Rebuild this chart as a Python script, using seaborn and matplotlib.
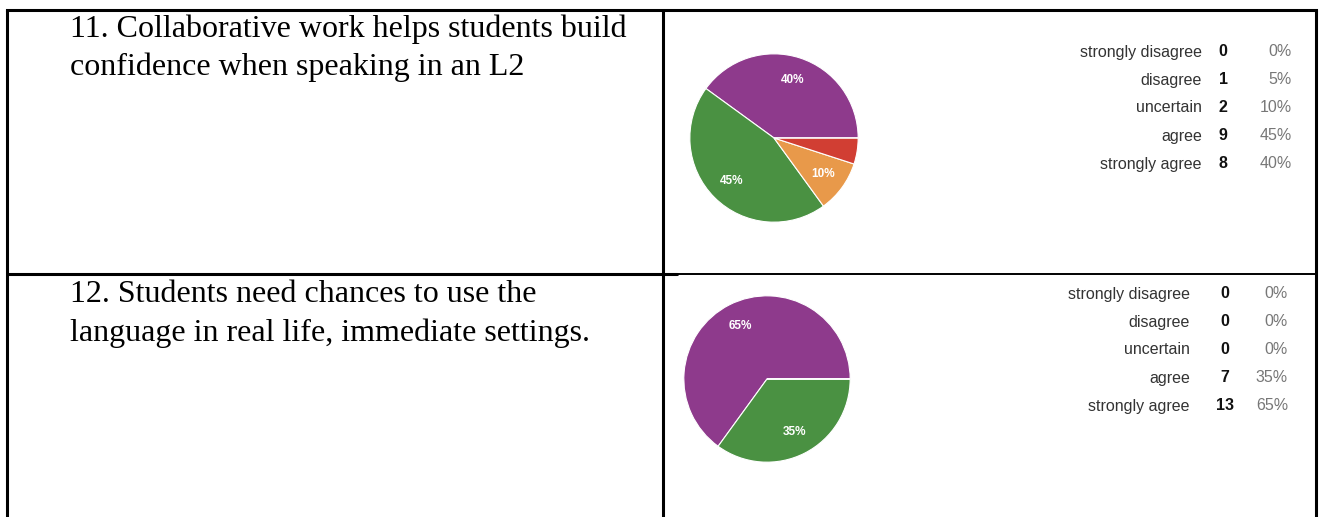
import matplotlib
matplotlib.use("Agg")
import matplotlib.pyplot as plt
import seaborn as sns

# ---- data ----
categories = ["strongly disagree", "disagree", "uncertain", "agree", "strongly agree"]
q11_title = ["11. Collaborative work helps students build", "confidence when speaking in an L2"]
q11_counts = [0, 1, 2, 9, 8]
q12_title = ["12. Students need chances to use the", "language in real life, immediate settings."]
q12_counts = [0, 0, 0, 7, 13]
slice_colors = {"strongly disagree": "#3366CC", "disagree": "#D13E33", "uncertain": "#E8994A",
                "agree": "#4A9142", "strongly agree": "#8E3A8C"}

sns.set_theme(style="white")
plt.rcParams["font.family"] = ["Liberation Sans", "DejaVu Sans"]

W, H = 1324, 517
fig = plt.figure(figsize=(W / 100, H / 100), dpi=100)
bg = fig.add_axes([0, 0, 1, 1])
bg.set_xlim(0, W)
bg.set_ylim(H, 0)
bg.axis("off")

# table borders
lw = 2.2
bg.plot([7, 1316], [10, 10], color="black", lw=lw, solid_capstyle="projecting")
bg.plot([7, 7], [10, H], color="black", lw=lw)
bg.plot([663, 663], [10, H], color="black", lw=lw)
bg.plot([1316, 1316], [10, H], color="black", lw=lw)
bg.plot([7, 677], [274, 274], color="black", lw=lw)
bg.plot([677, 1316], [274, 274], color="black", lw=1.4)

serif = ["Liberation Serif", "DejaVu Serif"]
for lines, y0 in [(q11_title, 29), (q12_title, 295)]:
    for i, ln in enumerate(lines):
        bg.text(70, y0 + i * 38, ln, family=serif, fontsize=23, color="black",
                va="center", ha="left")


def draw_pie(counts, cx, cy, r, legend_x, num_x, pct_x, legend_y0):
    ax = fig.add_axes([(cx - r) / W, 1 - (cy + r) / H, 2 * r / W, 2 * r / H])
    total = sum(counts)
    order = list(range(len(categories)))[::-1]  # strongly agree first
    vals = [counts[i] for i in order]
    cols = [slice_colors[categories[i]] for i in order]
    wedges, texts, autotexts = ax.pie(
        vals, colors=cols, startangle=0, counterclock=True, radius=1,
        autopct=lambda p: f"{p:.0f}%" if p >= 9.5 else "", pctdistance=0.72,
        wedgeprops=dict(edgecolor="white", linewidth=0.8),
        textprops=dict(color="white", fontsize=8.5, fontweight="bold"))
    ax.set_xlim(-1.01, 1.01)
    ax.set_ylim(-1.01, 1.01)
    ax.set_aspect("equal")
    ax.axis("off")
    for k, (cat, c) in enumerate(zip(categories, counts)):
        y = legend_y0 + k * 28
        bg.text(legend_x, y, cat, ha="right", va="center", fontsize=11.5, color="#333333")
        bg.text(num_x, y, str(c), ha="center", va="center", fontsize=11.5,
                fontweight="bold", color="#111111")
        bg.text(pct_x, y, f"{round(100 * c / total)}%", ha="right", va="center",
                fontsize=11.5, color="#777777")


draw_pie(q11_counts, 774, 138, 85, 1202, 1223, 1292, 52)
draw_pie(q12_counts, 767, 379, 84, 1190, 1225, 1288, 294)

fig.savefig("out.png", dpi=100)
